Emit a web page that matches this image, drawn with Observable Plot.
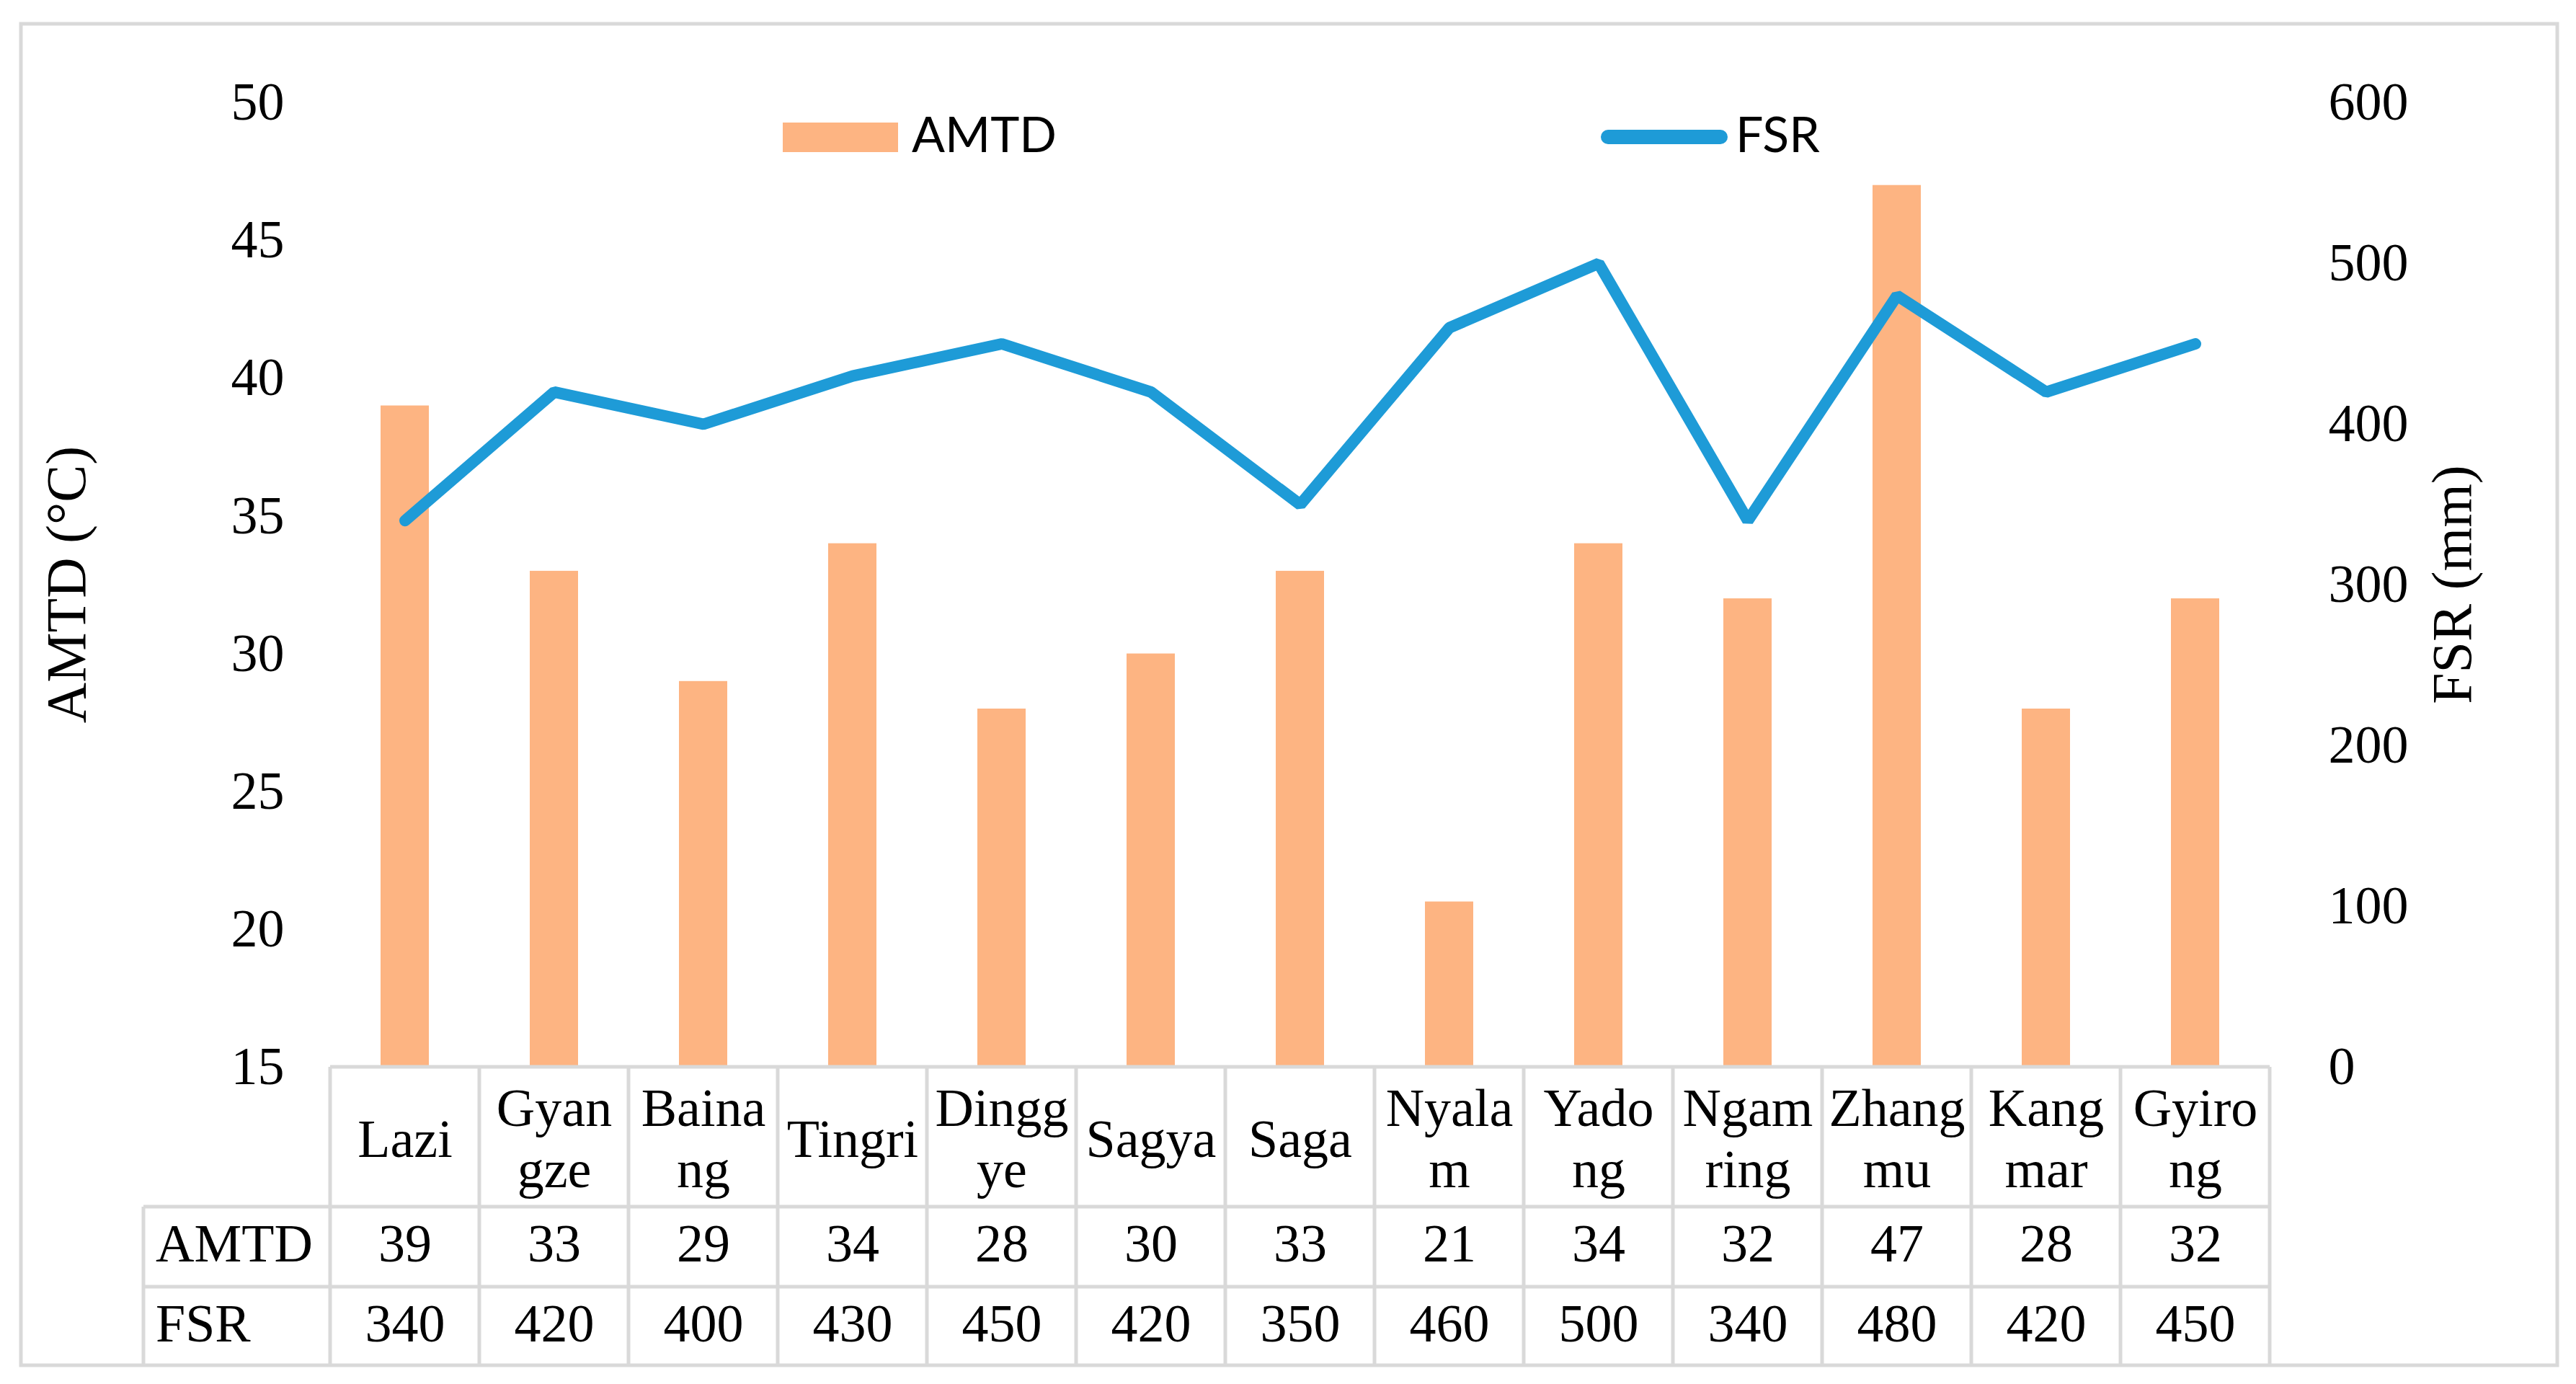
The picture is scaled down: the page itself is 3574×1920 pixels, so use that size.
<!DOCTYPE html>
<html>
<head>
<meta charset="utf-8">
<script src="https://cdn.jsdelivr.net/npm/d3@7"></script>
<script src="https://cdn.jsdelivr.net/npm/@observablehq/plot@0.6"></script>
<style>
  html, body { margin: 0; padding: 0; background: #fff; }
  #chart { width: 3574px; height: 1920px; }
</style>
</head>
<body>
<div id="chart"></div>
<script>
// ---- data ----
const stations = ["Lazi","Gyangze","Bainang","Tingri","Dinggye","Sagya","Saga","Nyalam","Yadong","Ngamring","Zhangmu","Kangmar","Gyirong"];
const stationLabels = ["Lazi","Gyan\ngze","Baina\nng","Tingri","Dingg\nye","Sagya","Saga","Nyala\nm","Yado\nng","Ngam\nring","Zhang\nmu","Kang\nmar","Gyiro\nng"];
const amtd = [39,33,29,34,28,30,33,21,34,32,47,28,32];
const fsr = [340,420,400,430,450,420,350,460,500,340,480,420,450];
const leftTicks = [15,20,25,30,35,40,45,50];
const rightTicks = [0,100,200,300,400,500,600];
const seriesNames = ["AMTD","FSR"];
const axisTitles = ["AMTD (°C)","FSR (mm)"];

const barColor = "#FDB482";
const lineColor = "#1E9BD7";
const gridColor = "#D9D9D9";
const serif = "'Liberation Serif', 'Times New Roman', serif";
const sans = "Lato, 'Liberation Sans', sans-serif";

// map FSR (0..600) onto AMTD axis (15..50)
const toLeft = v => 15 + v * 35 / 600;
const toRight = d => Math.round((d - 15) * 600 / 35);

const idx = d3.range(stations.length);
const W = 3574, H = 1920;

const chart = Plot.plot({
  width: W,
  height: H,
  marginLeft: 457,
  marginRight: W - 3150,
  marginTop: 142,
  marginBottom: H - 1480,
  style: { fontFamily: serif, background: "#fff", overflow: "visible" },
  x: { domain: stations, padding: 0, axis: null },
  y: { domain: [15, 50] },
  marks: [
    Plot.axisY({ anchor: "left", ticks: leftTicks, tickSize: 0, tickPadding: 63, fontSize: 74, label: null, fontFamily: serif }),
    Plot.axisY({ anchor: "right", ticks: rightTicks.map(toLeft), tickFormat: toRight, tickSize: 0, tickPadding: 80, fontSize: 74, label: null, fontFamily: serif }),
    Plot.barY(idx, { x: i => stations[i], y1: 15, y2: i => amtd[i], fill: barColor, insetLeft: 70, insetRight: 70 }),
    Plot.line(idx, { x: i => stations[i], y: i => toLeft(fsr[i]), stroke: lineColor, strokeWidth: 16, strokeLinecap: "round", strokeLinejoin: "miter" }),
    // table texts
    Plot.text(idx, { x: i => stations[i], y: () => 15, text: i => stationLabels[i], dy: 97, fontSize: 74, lineHeight: 1.15, fill: "#000", fontFamily: serif }),
    Plot.text(idx, { x: i => stations[i], y: () => 15, text: i => String(amtd[i]), dy: 246, fontSize: 74, fill: "#000", fontFamily: serif }),
    Plot.text(idx, { x: i => stations[i], y: () => 15, text: i => String(fsr[i]), dy: 357, fontSize: 74, fill: "#000", fontFamily: serif })
  ]
});

const svg = d3.select(chart);
svg.selectAll("text").attr("fill", "#000");
const xs = chart.scale("x");
const ys = chart.scale("y");
const bw = xs.bandwidth;
const xLeft = xs.apply(stations[0]);
const xRight = xs.apply(stations[stations.length - 1]) + bw;
const yTop = ys.apply(15);

const g = svg.append("g").attr("text-anchor", "start");
// outer border
g.append("rect").attr("x", 29).attr("y", 33).attr("width", 3548 - 29).attr("height", 1894 - 33)
  .attr("fill", "none").attr("stroke", gridColor).attr("stroke-width", 5);
// table lines
const row1 = 1674, row2 = 1785, bottom = 1894, labelLeft = 199;
const hline = (x1, x2, y) => g.append("line").attr("x1", x1).attr("x2", x2).attr("y1", y).attr("y2", y).attr("stroke", gridColor).attr("stroke-width", 5);
const vline = (x, y1, y2) => g.append("line").attr("x1", x).attr("x2", x).attr("y1", y1).attr("y2", y2).attr("stroke", gridColor).attr("stroke-width", 5);
hline(xLeft, xRight, yTop);
hline(labelLeft, xRight, row1);
hline(labelLeft, xRight, row2);
vline(labelLeft, row1, bottom);
stations.forEach(s => vline(xs.apply(s), yTop, bottom));
vline(xRight, yTop, bottom);
// row labels
seriesNames.forEach((n, k) => {
  g.append("text").attr("x", 216).attr("y", k === 0 ? 1750 : 1861).attr("text-anchor", "start")
    .attr("font-family", serif).attr("font-size", 74).attr("fill", "#000").text(n);
});
// axis titles
g.append("text").attr("transform", `translate(118, ${(yTop + 142) / 2}) rotate(-90)`).attr("text-anchor", "middle")
  .attr("font-family", serif).attr("font-size", 78).attr("fill", "#000").text(axisTitles[0]);
g.append("text").attr("transform", `translate(3428, ${(yTop + 142) / 2}) rotate(-90)`).attr("text-anchor", "middle")
  .attr("font-family", serif).attr("font-size", 78).attr("fill", "#000").text(axisTitles[1]);
// legend
g.append("rect").attr("x", 1086).attr("y", 170).attr("width", 160).attr("height", 41).attr("fill", barColor);
g.append("text").attr("x", 1265).attr("y", 211).attr("text-anchor", "start").attr("font-family", sans).attr("font-size", 68).attr("fill", "#000").text(seriesNames[0]);
g.append("line").attr("x1", 2231).attr("x2", 2387).attr("y1", 190).attr("y2", 190).attr("stroke", lineColor).attr("stroke-width", 20).attr("stroke-linecap", "round");
g.append("text").attr("x", 2408).attr("y", 211).attr("text-anchor", "start").attr("font-family", sans).attr("font-size", 68).attr("fill", "#000").text(seriesNames[1]);

document.getElementById("chart").appendChild(chart);
</script>
</body>
</html>
